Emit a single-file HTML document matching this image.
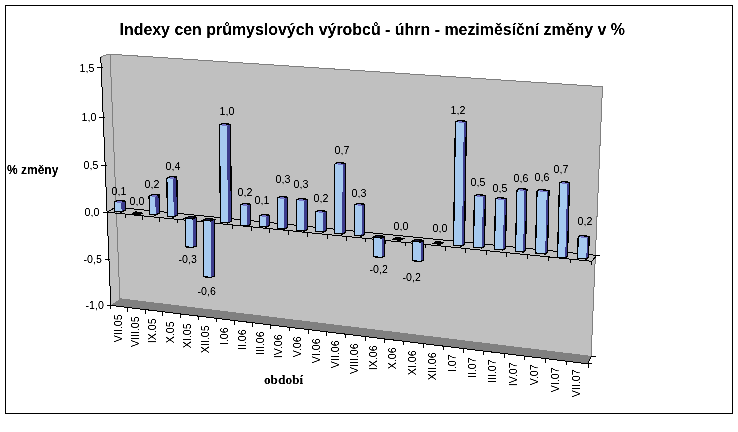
<!DOCTYPE html>
<html lang="cs"><head><meta charset="utf-8"><title>Indexy cen průmyslových výrobců</title>
<style>html,body{margin:0;padding:0;background:#fff}body{width:738px;height:432px;overflow:hidden}svg{display:block}</style></head>
<body>
<svg width="738" height="432" viewBox="0 0 738 432">
<rect x="0" y="0" width="738" height="432" fill="#fff"/>
<defs><filter id="px" x="-5%" y="-5%" width="110%" height="110%" color-interpolation-filters="sRGB"><feComponentTransfer><feFuncA type="table" tableValues="0 0.05 0.6 1 1"/></feComponentTransfer></filter></defs>
<g shape-rendering="crispEdges">
<rect x="5.5" y="5.5" width="727" height="408" fill="#fff" stroke="#000" stroke-width="1"/>
<polygon points="100.8,57.4 110.1,54.2 119.9,298.8 110.8,305.4" fill="#c0c0c0" stroke="#c0c0c0" stroke-width="0.5"/>
<polygon points="110.1,54.2 602.5,86.7 591.1,356.4 119.9,298.8" fill="#c0c0c0" stroke="#808080" stroke-width="1"/>
<polygon points="110.8,305.4 119.9,298.8 591.1,356.4 587.9,363.8" fill="#808080"/>
<polyline points="100.8,57.4 104.0,55.3 110.1,54.2" fill="none" stroke="#808080" stroke-width="1"/>
<line x1="100.8" y1="57.4" x2="110.8" y2="305.4" stroke="#000" stroke-width="1"/>
<line x1="110.8" y1="305.4" x2="587.9" y2="363.8" stroke="#000" stroke-width="1"/>
<line x1="587.9" y1="363.8" x2="591.1" y2="356.4" stroke="#000" stroke-width="1"/>
<line x1="591.1" y1="356.4" x2="595.6" y2="356.4" stroke="#000" stroke-width="1"/>
<line x1="587.9" y1="363.8" x2="592.4" y2="363.8" stroke="#000" stroke-width="1"/>
<line x1="97.2" y1="67.8" x2="102.7" y2="67.8" stroke="#000" stroke-width="1"/>
<line x1="99.2" y1="117.1" x2="104.7" y2="117.1" stroke="#000" stroke-width="1"/>
<line x1="101.1" y1="165.1" x2="106.6" y2="165.1" stroke="#000" stroke-width="1"/>
<line x1="103.0" y1="212.0" x2="108.5" y2="212.0" stroke="#000" stroke-width="1"/>
<line x1="104.9" y1="259.1" x2="110.4" y2="259.1" stroke="#000" stroke-width="1"/>
<line x1="106.8" y1="305.1" x2="112.3" y2="305.1" stroke="#000" stroke-width="1"/>
<line x1="116.0" y1="207.2" x2="596.5" y2="255.4" stroke="#000" stroke-width="1"/>
<line x1="106.7" y1="212.2" x2="116.0" y2="207.2" stroke="#000" stroke-width="1"/>
<line x1="592.0" y1="261.3" x2="596.5" y2="255.4" stroke="#000" stroke-width="1"/>
<line x1="596.5" y1="255.4" x2="600.0" y2="255.4" stroke="#000" stroke-width="1"/>
<line x1="106.7" y1="212.2" x2="592.0" y2="261.3" stroke="#000" stroke-width="1"/>
<line x1="125.0" y1="214.1" x2="125.0" y2="218.1" stroke="#000" stroke-width="1"/>
<line x1="142.5" y1="215.8" x2="142.5" y2="219.8" stroke="#000" stroke-width="1"/>
<line x1="159.2" y1="217.5" x2="159.2" y2="221.5" stroke="#000" stroke-width="1"/>
<line x1="177.5" y1="219.4" x2="177.5" y2="223.4" stroke="#000" stroke-width="1"/>
<line x1="195.5" y1="221.2" x2="195.5" y2="225.2" stroke="#000" stroke-width="1"/>
<line x1="213.8" y1="223.0" x2="213.8" y2="227.0" stroke="#000" stroke-width="1"/>
<line x1="232.5" y1="224.9" x2="232.5" y2="228.9" stroke="#000" stroke-width="1"/>
<line x1="251.3" y1="226.8" x2="251.3" y2="230.8" stroke="#000" stroke-width="1"/>
<line x1="269.7" y1="228.7" x2="269.7" y2="232.7" stroke="#000" stroke-width="1"/>
<line x1="288.3" y1="230.6" x2="288.3" y2="234.6" stroke="#000" stroke-width="1"/>
<line x1="307.5" y1="232.5" x2="307.5" y2="236.5" stroke="#000" stroke-width="1"/>
<line x1="327.5" y1="234.5" x2="327.5" y2="238.5" stroke="#000" stroke-width="1"/>
<line x1="346.7" y1="236.5" x2="346.7" y2="240.5" stroke="#000" stroke-width="1"/>
<line x1="365.5" y1="238.4" x2="365.5" y2="242.4" stroke="#000" stroke-width="1"/>
<line x1="385.3" y1="240.4" x2="385.3" y2="244.4" stroke="#000" stroke-width="1"/>
<line x1="405.4" y1="242.4" x2="405.4" y2="246.4" stroke="#000" stroke-width="1"/>
<line x1="425.3" y1="244.4" x2="425.3" y2="248.4" stroke="#000" stroke-width="1"/>
<line x1="445.3" y1="246.5" x2="445.3" y2="250.5" stroke="#000" stroke-width="1"/>
<line x1="465.5" y1="248.5" x2="465.5" y2="252.5" stroke="#000" stroke-width="1"/>
<line x1="486.3" y1="250.6" x2="486.3" y2="254.6" stroke="#000" stroke-width="1"/>
<line x1="506.5" y1="252.6" x2="506.5" y2="256.6" stroke="#000" stroke-width="1"/>
<line x1="527.5" y1="254.8" x2="527.5" y2="258.8" stroke="#000" stroke-width="1"/>
<line x1="548.3" y1="256.9" x2="548.3" y2="260.9" stroke="#000" stroke-width="1"/>
<line x1="570.5" y1="259.1" x2="570.5" y2="263.1" stroke="#000" stroke-width="1"/>
<line x1="591.7" y1="261.3" x2="591.7" y2="265.3" stroke="#000" stroke-width="1"/>
<line x1="127.8" y1="307.5" x2="127.8" y2="311.5" stroke="#000" stroke-width="1"/>
<line x1="145.5" y1="309.6" x2="145.5" y2="313.6" stroke="#000" stroke-width="1"/>
<line x1="162.6" y1="311.7" x2="162.6" y2="315.7" stroke="#000" stroke-width="1"/>
<line x1="180.4" y1="313.9" x2="180.4" y2="317.9" stroke="#000" stroke-width="1"/>
<line x1="198.1" y1="316.1" x2="198.1" y2="320.1" stroke="#000" stroke-width="1"/>
<line x1="216.3" y1="318.3" x2="216.3" y2="322.3" stroke="#000" stroke-width="1"/>
<line x1="234.7" y1="320.6" x2="234.7" y2="324.6" stroke="#000" stroke-width="1"/>
<line x1="252.4" y1="322.7" x2="252.4" y2="326.7" stroke="#000" stroke-width="1"/>
<line x1="270.8" y1="325.0" x2="270.8" y2="329.0" stroke="#000" stroke-width="1"/>
<line x1="289.3" y1="327.2" x2="289.3" y2="331.2" stroke="#000" stroke-width="1"/>
<line x1="308.0" y1="329.5" x2="308.0" y2="333.5" stroke="#000" stroke-width="1"/>
<line x1="326.8" y1="331.8" x2="326.8" y2="335.8" stroke="#000" stroke-width="1"/>
<line x1="345.8" y1="334.1" x2="345.8" y2="338.1" stroke="#000" stroke-width="1"/>
<line x1="365.0" y1="336.5" x2="365.0" y2="340.5" stroke="#000" stroke-width="1"/>
<line x1="384.3" y1="338.8" x2="384.3" y2="342.8" stroke="#000" stroke-width="1"/>
<line x1="403.8" y1="341.2" x2="403.8" y2="345.2" stroke="#000" stroke-width="1"/>
<line x1="423.5" y1="343.6" x2="423.5" y2="347.6" stroke="#000" stroke-width="1"/>
<line x1="443.3" y1="346.1" x2="443.3" y2="350.1" stroke="#000" stroke-width="1"/>
<line x1="463.3" y1="348.5" x2="463.3" y2="352.5" stroke="#000" stroke-width="1"/>
<line x1="483.6" y1="351.0" x2="483.6" y2="355.0" stroke="#000" stroke-width="1"/>
<line x1="504.5" y1="353.6" x2="504.5" y2="357.6" stroke="#000" stroke-width="1"/>
<line x1="524.9" y1="356.0" x2="524.9" y2="360.0" stroke="#000" stroke-width="1"/>
<line x1="545.8" y1="358.6" x2="545.8" y2="362.6" stroke="#000" stroke-width="1"/>
<line x1="566.7" y1="361.2" x2="566.7" y2="365.2" stroke="#000" stroke-width="1"/>
<line x1="588.0" y1="363.8" x2="588.0" y2="367.8" stroke="#000" stroke-width="1"/>
<line x1="110.8" y1="305.4" x2="110.8" y2="309.4" stroke="#000" stroke-width="1"/>
<polygon points="121.3,202.9 125.2,201.2 125.5,210.3 121.6,212.0" fill="#3c3c8c"/>
<polygon points="114.2,202.2 118.1,200.5 125.2,201.2 121.3,202.9" fill="#7676c8"/>
<polygon points="114.2,202.2 121.3,202.9 121.6,212.0 114.5,211.3" fill="#a6caf0"/>
<polygon points="114.2,202.2 118.1,200.5 125.2,201.2 125.5,210.3 121.6,212.0 114.5,211.3" fill="none" stroke="#000" stroke-width="1.3" stroke-linejoin="miter"/>
<polygon points="132.0,213.8 135.3,211.7 142.9,213.1 139.4,215.0" fill="#000" stroke="#000" stroke-width="1"/>
<polygon points="155.3,196.8 159.1,195.1 159.5,213.3 155.7,215.0" fill="#3c3c8c"/>
<polygon points="149.1,196.2 152.9,194.5 159.1,195.1 155.3,196.8" fill="#7676c8"/>
<polygon points="149.1,196.2 155.3,196.8 155.7,215.0 149.5,214.4" fill="#a6caf0"/>
<polygon points="149.1,196.2 152.9,194.5 159.1,195.1 159.5,213.3 155.7,215.0 149.5,214.4" fill="none" stroke="#000" stroke-width="1.3" stroke-linejoin="miter"/>
<polygon points="173.1,178.8 176.8,177.1 177.5,215.3 173.8,217.0" fill="#3c3c8c"/>
<polygon points="166.8,178.2 170.5,176.5 176.8,177.1 173.1,178.8" fill="#7676c8"/>
<polygon points="166.8,178.2 173.1,178.8 173.8,217.0 167.5,216.4" fill="#a6caf0"/>
<polygon points="166.8,178.2 170.5,176.5 176.8,177.1 177.5,215.3 173.8,217.0 167.5,216.4" fill="none" stroke="#000" stroke-width="1.3" stroke-linejoin="miter"/>
<polygon points="192.9,218.9 196.5,217.2 196.5,245.8 192.9,247.5" fill="#3c3c8c"/>
<polygon points="185.5,218.2 192.9,218.9 192.9,247.5 185.5,246.8" fill="#a6caf0"/>
<polygon points="185.5,218.2 189.1,216.5 196.5,217.2 196.5,245.8 192.9,247.5 185.5,246.8" fill="none" stroke="#000" stroke-width="1.3" stroke-linejoin="miter"/>
<polygon points="185.5,218.2 189.1,216.5 196.5,217.2 192.9,218.9" fill="#1a1a3a" stroke="#000" stroke-width="1.3" stroke-linejoin="miter"/>
<polygon points="211.0,221.0 214.5,219.3 214.5,275.8 211.0,277.5" fill="#3c3c8c"/>
<polygon points="203.5,220.2 211.0,221.0 211.0,277.5 203.5,276.7" fill="#a6caf0"/>
<polygon points="203.5,220.2 207.0,218.5 214.5,219.3 214.5,275.8 211.0,277.5 203.5,276.7" fill="none" stroke="#000" stroke-width="1.3" stroke-linejoin="miter"/>
<polygon points="203.5,220.2 207.0,218.5 214.5,219.3 211.0,221.0" fill="#1a1a3a" stroke="#000" stroke-width="1.3" stroke-linejoin="miter"/>
<polygon points="226.9,126.0 230.4,124.3 231.5,221.3 228.0,223.0" fill="#3c3c8c"/>
<polygon points="219.4,125.2 222.9,123.5 230.4,124.3 226.9,126.0" fill="#7676c8"/>
<polygon points="219.4,125.2 226.9,126.0 228.0,223.0 220.5,222.2" fill="#a6caf0"/>
<polygon points="219.4,125.2 222.9,123.5 230.4,124.3 231.5,221.3 228.0,223.0 220.5,222.2" fill="none" stroke="#000" stroke-width="1.3" stroke-linejoin="miter"/>
<polygon points="246.9,205.9 250.3,204.2 250.5,224.3 247.1,226.0" fill="#3c3c8c"/>
<polygon points="240.3,205.2 243.7,203.5 250.3,204.2 246.9,205.9" fill="#7676c8"/>
<polygon points="240.3,205.2 246.9,205.9 247.1,226.0 240.5,225.3" fill="#a6caf0"/>
<polygon points="240.3,205.2 243.7,203.5 250.3,204.2 250.5,224.3 247.1,226.0 240.5,225.3" fill="none" stroke="#000" stroke-width="1.3" stroke-linejoin="miter"/>
<polygon points="266.1,216.9 269.4,215.2 269.5,225.3 266.2,227.0" fill="#3c3c8c"/>
<polygon points="259.4,216.2 262.8,214.5 269.4,215.2 266.1,216.9" fill="#7676c8"/>
<polygon points="259.4,216.2 266.1,216.9 266.2,227.0 259.5,226.3" fill="#a6caf0"/>
<polygon points="259.4,216.2 262.8,214.5 269.4,215.2 269.5,225.3 266.2,227.0 259.5,226.3" fill="none" stroke="#000" stroke-width="1.3" stroke-linejoin="miter"/>
<polygon points="284.1,198.9 287.4,197.2 287.5,227.3 284.2,229.0" fill="#3c3c8c"/>
<polygon points="277.4,198.2 280.6,196.5 287.4,197.2 284.1,198.9" fill="#7676c8"/>
<polygon points="277.4,198.2 284.1,198.9 284.2,229.0 277.5,228.3" fill="#a6caf0"/>
<polygon points="277.4,198.2 280.6,196.5 287.4,197.2 287.5,227.3 284.2,229.0 277.5,228.3" fill="none" stroke="#000" stroke-width="1.3" stroke-linejoin="miter"/>
<polygon points="304.2,201.0 307.4,199.3 307.5,229.3 304.3,231.0" fill="#3c3c8c"/>
<polygon points="296.4,200.2 299.6,198.5 307.4,199.3 304.2,201.0" fill="#7676c8"/>
<polygon points="296.4,200.2 304.2,201.0 304.3,231.0 296.5,230.2" fill="#a6caf0"/>
<polygon points="296.4,200.2 299.6,198.5 307.4,199.3 307.5,229.3 304.3,231.0 296.5,230.2" fill="none" stroke="#000" stroke-width="1.3" stroke-linejoin="miter"/>
<polygon points="323.4,213.0 326.5,211.3 326.5,230.3 323.4,232.0" fill="#3c3c8c"/>
<polygon points="315.5,212.2 318.6,210.5 326.5,211.3 323.4,213.0" fill="#7676c8"/>
<polygon points="315.5,212.2 323.4,213.0 323.4,232.0 315.5,231.2" fill="#a6caf0"/>
<polygon points="315.5,212.2 318.6,210.5 326.5,211.3 326.5,230.3 323.4,232.0 315.5,231.2" fill="none" stroke="#000" stroke-width="1.3" stroke-linejoin="miter"/>
<polygon points="342.6,165.0 345.6,163.3 345.5,232.3 342.4,234.0" fill="#3c3c8c"/>
<polygon points="334.6,164.2 337.7,162.5 345.6,163.3 342.6,165.0" fill="#7676c8"/>
<polygon points="334.6,164.2 342.6,165.0 342.4,234.0 334.5,233.2" fill="#a6caf0"/>
<polygon points="334.6,164.2 337.7,162.5 345.6,163.3 345.5,232.3 342.4,234.0 334.5,233.2" fill="none" stroke="#000" stroke-width="1.3" stroke-linejoin="miter"/>
<polygon points="361.7,205.9 364.6,204.2 364.5,234.3 361.5,236.0" fill="#3c3c8c"/>
<polygon points="354.6,205.2 357.6,203.5 364.6,204.2 361.7,205.9" fill="#7676c8"/>
<polygon points="354.6,205.2 361.7,205.9 361.5,236.0 354.5,235.3" fill="#a6caf0"/>
<polygon points="354.6,205.2 357.6,203.5 364.6,204.2 364.5,234.3 361.5,236.0 354.5,235.3" fill="none" stroke="#000" stroke-width="1.3" stroke-linejoin="miter"/>
<polygon points="381.6,238.0 384.5,236.3 384.5,255.8 381.6,257.5" fill="#3c3c8c"/>
<polygon points="373.5,237.2 381.6,238.0 381.6,257.5 373.5,256.7" fill="#a6caf0"/>
<polygon points="373.5,237.2 376.4,235.5 384.5,236.3 384.5,255.8 381.6,257.5 373.5,256.7" fill="none" stroke="#000" stroke-width="1.3" stroke-linejoin="miter"/>
<polygon points="373.5,237.2 376.4,235.5 384.5,236.3 381.6,238.0" fill="#1a1a3a" stroke="#000" stroke-width="1.3" stroke-linejoin="miter"/>
<polygon points="393.0,239.3 396.3,237.2 403.6,238.6 400.1,240.6" fill="#000" stroke="#000" stroke-width="1"/>
<polygon points="420.7,242.0 423.5,240.3 423.5,259.8 420.7,261.5" fill="#3c3c8c"/>
<polygon points="412.5,241.2 420.7,242.0 420.7,261.5 412.5,260.7" fill="#a6caf0"/>
<polygon points="412.5,241.2 415.3,239.5 423.5,240.3 423.5,259.8 420.7,261.5 412.5,260.7" fill="none" stroke="#000" stroke-width="1.3" stroke-linejoin="miter"/>
<polygon points="412.5,241.2 415.3,239.5 423.5,240.3 420.7,242.0" fill="#1a1a3a" stroke="#000" stroke-width="1.3" stroke-linejoin="miter"/>
<polygon points="433.4,243.2 436.7,241.1 443.5,242.5 440.0,244.6" fill="#000" stroke="#000" stroke-width="1"/>
<polygon points="463.8,123.0 466.4,121.3 464.5,244.3 461.9,246.0" fill="#3c3c8c"/>
<polygon points="455.4,122.2 458.0,120.5 466.4,121.3 463.8,123.0" fill="#7676c8"/>
<polygon points="455.4,122.2 463.8,123.0 461.9,246.0 453.5,245.2" fill="#a6caf0"/>
<polygon points="455.4,122.2 458.0,120.5 466.4,121.3 464.5,244.3 461.9,246.0 453.5,245.2" fill="none" stroke="#000" stroke-width="1.3" stroke-linejoin="miter"/>
<polygon points="482.9,197.1 485.4,195.4 484.5,246.3 481.9,248.0" fill="#3c3c8c"/>
<polygon points="474.4,196.2 477.0,194.5 485.4,195.4 482.9,197.1" fill="#7676c8"/>
<polygon points="474.4,196.2 482.9,197.1 481.9,248.0 473.5,247.1" fill="#a6caf0"/>
<polygon points="474.4,196.2 477.0,194.5 485.4,195.4 484.5,246.3 481.9,248.0 473.5,247.1" fill="none" stroke="#000" stroke-width="1.3" stroke-linejoin="miter"/>
<polygon points="504.0,200.1 506.5,198.4 505.5,248.3 503.0,250.0" fill="#3c3c8c"/>
<polygon points="495.5,199.2 498.0,197.5 506.5,198.4 504.0,200.1" fill="#7676c8"/>
<polygon points="495.5,199.2 504.0,200.1 503.0,250.0 494.5,249.1" fill="#a6caf0"/>
<polygon points="495.5,199.2 498.0,197.5 506.5,198.4 505.5,248.3 503.0,250.0 494.5,249.1" fill="none" stroke="#000" stroke-width="1.3" stroke-linejoin="miter"/>
<polygon points="524.5,191.0 526.9,189.3 525.5,250.3 523.1,252.0" fill="#3c3c8c"/>
<polygon points="516.9,190.2 519.3,188.5 526.9,189.3 524.5,191.0" fill="#7676c8"/>
<polygon points="516.9,190.2 524.5,191.0 523.1,252.0 515.5,251.2" fill="#a6caf0"/>
<polygon points="516.9,190.2 519.3,188.5 526.9,189.3 525.5,250.3 523.1,252.0 515.5,251.2" fill="none" stroke="#000" stroke-width="1.3" stroke-linejoin="miter"/>
<polygon points="546.7,192.2 549.0,190.5 547.5,252.3 545.2,254.0" fill="#3c3c8c"/>
<polygon points="537.0,191.2 539.4,189.5 549.0,190.5 546.7,192.2" fill="#7676c8"/>
<polygon points="537.0,191.2 546.7,192.2 545.2,254.0 535.5,253.0" fill="#a6caf0"/>
<polygon points="537.0,191.2 539.4,189.5 549.0,190.5 547.5,252.3 545.2,254.0 535.5,253.0" fill="none" stroke="#000" stroke-width="1.3" stroke-linejoin="miter"/>
<polygon points="567.2,184.0 569.5,182.3 567.5,256.3 565.2,258.0" fill="#3c3c8c"/>
<polygon points="559.5,183.2 561.8,181.5 569.5,182.3 567.2,184.0" fill="#7676c8"/>
<polygon points="559.5,183.2 567.2,184.0 565.2,258.0 557.5,257.2" fill="#a6caf0"/>
<polygon points="559.5,183.2 561.8,181.5 569.5,182.3 567.5,256.3 565.2,258.0 557.5,257.2" fill="none" stroke="#000" stroke-width="1.3" stroke-linejoin="miter"/>
<polygon points="587.0,238.1 589.2,236.4 588.5,257.3 586.3,259.0" fill="#3c3c8c"/>
<polygon points="578.2,237.2 580.4,235.5 589.2,236.4 587.0,238.1" fill="#7676c8"/>
<polygon points="578.2,237.2 587.0,238.1 586.3,259.0 577.5,258.1" fill="#a6caf0"/>
<polygon points="578.2,237.2 580.4,235.5 589.2,236.4 588.5,257.3 586.3,259.0 577.5,258.1" fill="none" stroke="#000" stroke-width="1.3" stroke-linejoin="miter"/>
</g>
<g font-family="Liberation Sans, Arial, sans-serif" fill="#000" filter="url(#px)">
<text x="119.5" y="34.6" font-size="16" font-weight="bold" textLength="505.5" lengthAdjust="spacingAndGlyphs">Indexy cen průmyslových výrobců - úhrn - meziměsíční změny v %</text>
<text x="7" y="173.7" font-size="12" font-weight="bold">% změny</text>
<text x="79.5" y="71.7" font-size="10.67">1,5</text>
<text x="81.5" y="121.0" font-size="10.67">1,0</text>
<text x="83.5" y="169.0" font-size="10.67">0,5</text>
<text x="84.5" y="215.9" font-size="10.67">0,0</text>
<text x="83.5" y="263.0" font-size="10.67">-0,5</text>
<text x="85.5" y="309.0" font-size="10.67">-1,0</text>
<text x="111.5" y="194.7" font-size="10.67">0,1</text>
<text x="129.5" y="204.7" font-size="10.67">0,0</text>
<text x="144.5" y="187.5" font-size="10.67">0,2</text>
<text x="165.5" y="169.7" font-size="10.67">0,4</text>
<text x="178.5" y="263.0" font-size="10.67">-0,3</text>
<text x="197.5" y="294.9" font-size="10.67">-0,6</text>
<text x="219.5" y="115.0" font-size="10.67">1,0</text>
<text x="237.5" y="195.5" font-size="10.67">0,2</text>
<text x="254.5" y="203.8" font-size="10.67">0,1</text>
<text x="275.5" y="183.4" font-size="10.67">0,3</text>
<text x="293.5" y="187.6" font-size="10.67">0,3</text>
<text x="313.5" y="201.8" font-size="10.67">0,2</text>
<text x="334.5" y="153.7" font-size="10.67">0,7</text>
<text x="351.5" y="196.5" font-size="10.67">0,3</text>
<text x="369.5" y="272.6" font-size="10.67">-0,2</text>
<text x="393.5" y="230.0" font-size="10.67">0,0</text>
<text x="402.5" y="280.7" font-size="10.67">-0,2</text>
<text x="432.5" y="232.2" font-size="10.67">0,0</text>
<text x="450.5" y="114.0" font-size="10.67">1,2</text>
<text x="470.5" y="185.8" font-size="10.67">0,5</text>
<text x="492.5" y="191.7" font-size="10.67">0,5</text>
<text x="513.5" y="181.7" font-size="10.67">0,6</text>
<text x="534.5" y="181.3" font-size="10.67">0,6</text>
<text x="553.5" y="172.5" font-size="10.67">0,7</text>
<text x="577.5" y="224.6" font-size="10.67">0,2</text>
<text transform="translate(121.5,314.3) rotate(-90)" font-size="10.67" text-anchor="end">VII.05</text>
<text transform="translate(138.8,316.3) rotate(-90)" font-size="10.67" text-anchor="end">VIII.05</text>
<text transform="translate(156.2,318.3) rotate(-90)" font-size="10.67" text-anchor="end">IX.05</text>
<text transform="translate(173.7,321.3) rotate(-90)" font-size="10.67" text-anchor="end">X.05</text>
<text transform="translate(191.4,323.3) rotate(-90)" font-size="10.67" text-anchor="end">XI.05</text>
<text transform="translate(209.4,325.3) rotate(-90)" font-size="10.67" text-anchor="end">XII.05</text>
<text transform="translate(227.7,327.3) rotate(-90)" font-size="10.67" text-anchor="end">I.06</text>
<text transform="translate(245.8,329.3) rotate(-90)" font-size="10.67" text-anchor="end">II.06</text>
<text transform="translate(263.8,331.3) rotate(-90)" font-size="10.67" text-anchor="end">III.06</text>
<text transform="translate(282.2,334.3) rotate(-90)" font-size="10.67" text-anchor="end">IV.06</text>
<text transform="translate(300.8,336.3) rotate(-90)" font-size="10.67" text-anchor="end">V.06</text>
<text transform="translate(319.6,338.3) rotate(-90)" font-size="10.67" text-anchor="end">VI.06</text>
<text transform="translate(338.5,340.3) rotate(-90)" font-size="10.67" text-anchor="end">VII.06</text>
<text transform="translate(357.6,343.3) rotate(-90)" font-size="10.67" text-anchor="end">VIII.06</text>
<text transform="translate(376.8,345.3) rotate(-90)" font-size="10.67" text-anchor="end">IX.06</text>
<text transform="translate(396.2,347.3) rotate(-90)" font-size="10.67" text-anchor="end">X.06</text>
<text transform="translate(415.8,350.3) rotate(-90)" font-size="10.67" text-anchor="end">XI.06</text>
<text transform="translate(435.6,352.3) rotate(-90)" font-size="10.67" text-anchor="end">XII.06</text>
<text transform="translate(455.5,354.3) rotate(-90)" font-size="10.67" text-anchor="end">I.07</text>
<text transform="translate(475.7,357.3) rotate(-90)" font-size="10.67" text-anchor="end">II.07</text>
<text transform="translate(496.2,359.3) rotate(-90)" font-size="10.67" text-anchor="end">III.07</text>
<text transform="translate(516.9,362.3) rotate(-90)" font-size="10.67" text-anchor="end">IV.07</text>
<text transform="translate(537.5,364.3) rotate(-90)" font-size="10.67" text-anchor="end">V.07</text>
<text transform="translate(558.5,367.3) rotate(-90)" font-size="10.67" text-anchor="end">VI.07</text>
<text transform="translate(579.6,369.3) rotate(-90)" font-size="10.67" text-anchor="end">VII.07</text>
</g>
<text x="263.9" y="383.75" font-family="Liberation Serif, Times New Roman, serif" font-weight="bold" font-size="13.33" fill="#000" filter="url(#px)">období</text>
</svg>
</body></html>
